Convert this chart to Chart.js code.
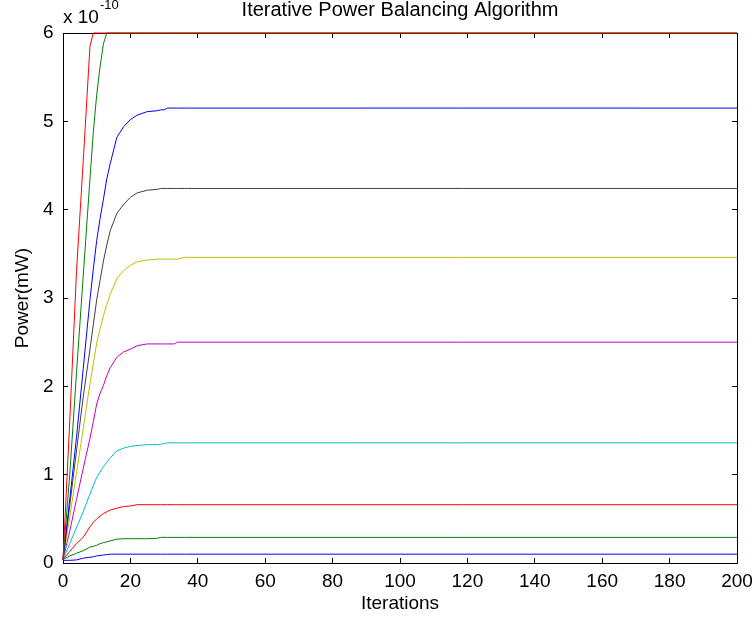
<!DOCTYPE html>
<html><head><meta charset="utf-8">
<script src="https://cdn.jsdelivr.net/npm/chart.js@4/dist/chart.umd.min.js"></script>
<style>html,body{margin:0;padding:0;background:#fff}canvas{display:block}</style>
</head><body>
<canvas id="c" width="755" height="625"></canvas>
<script>
// Iteration numbers (x) shared by every series
const iterations = [0,2,4,6,8,9,10,11,12,13,14,16,18,20,22,25,28,29,30,31,33,34,36,37,200];
// Power values in units of 1e-10 mW (MATLAB colour cycle order)
const powerBlueLow   = [0.03,0.03,0.035,0.055,0.065,0.07,0.08,0.085,0.09,0.095,0.1,0.1,0.1,0.1,0.1,0.1,0.1,0.1,0.1,0.1,0.1,0.1,0.1,0.1,0.1];
const powerGreenLow  = [0.04,0.08,0.11,0.14,0.18,0.19,0.2,0.22,0.23,0.24,0.25,0.27,0.275,0.275,0.275,0.275,0.28,0.29,0.29,0.29,0.29,0.29,0.29,0.29,0.29];
const powerRedLow    = [0.04,0.13,0.22,0.29,0.41,0.46,0.5,0.53,0.56,0.58,0.6,0.62,0.64,0.645,0.66,0.66,0.66,0.66,0.66,0.66,0.66,0.66,0.66,0.66,0.66];
const powerCyan      = [0.04,0.22,0.4,0.58,0.78,0.88,0.97,1.03,1.09,1.14,1.19,1.27,1.3,1.32,1.33,1.34,1.34,1.345,1.35,1.36,1.36,1.36,1.36,1.36,1.36];
const powerMagenta   = [0.04,0.36,0.72,1.07,1.41,1.6,1.8,1.92,2.01,2.12,2.21,2.33,2.39,2.42,2.46,2.48,2.48,2.48,2.48,2.48,2.48,2.5,2.5,2.5,2.5];
const powerYellow    = [0.04,0.52,1.02,1.52,2.03,2.26,2.49,2.65,2.8,2.93,3.04,3.22,3.31,3.37,3.41,3.43,3.44,3.44,3.44,3.44,3.44,3.44,3.46,3.46,3.46];
const powerBlack     = [0.04,0.65,1.27,1.88,2.42,2.7,2.98,3.2,3.42,3.6,3.76,3.96,4.06,4.14,4.19,4.22,4.23,4.24,4.24,4.24,4.24,4.24,4.24,4.24,4.24];
const powerBlueHigh  = [0.04,0.72,1.42,2.2,2.98,3.33,3.65,3.9,4.12,4.35,4.52,4.82,4.94,5.02,5.07,5.11,5.12,5.13,5.13,5.15,5.15,5.15,5.15,5.15,5.15];
const powerGreenHigh = [0.04,1.0,2.15,3.25,4.35,4.88,5.3,5.62,5.88,6,6,6,6,6,6,6,6,6,6,6,6,6,6,6,6];
const powerRedHigh   = [0.04,1.6,3.3,4.55,5.85,6,6,6,6,6,6,6,6,6,6,6,6,6,6,6,6,6,6,6,6];
const seriesList = [powerBlueLow,powerGreenLow,powerRedLow,powerCyan,powerMagenta,powerYellow,powerBlack,powerBlueHigh,powerGreenHigh,powerRedHigh];
const seriesColors = ['#0000ff','#008000','#ff0000','#00bfbf','#bf00bf','#bfbf00','#404040','#0000ff','#008000','#ff0000'];
const xTickStep = 20, yTickStep = 1;
const titleText = 'Iterative Power Balancing Algorithm';
const xTitle = 'Iterations', yTitle = 'Power(mW)';
const exponentBase = 'x 10', exponentPower = '-10';

const FONT = '"Liberation Sans", Arial, Helvetica, sans-serif';

const datasets = seriesList.map((vals, i) => ({
  data: iterations.map((it, k) => ({x: it, y: vals[k]})),
  borderColor: seriesColors[i],
  backgroundColor: seriesColors[i],
  borderWidth: 1,
  pointRadius: 0,
  tension: 0,
  fill: false,
  clip: 2,
  order: seriesList.length - i
}));

const exponentLabel = {
  id: 'exponentLabel',
  afterDraw(chart) {
    const {ctx, chartArea} = chart;
    ctx.save();
    ctx.fillStyle = '#000';
    ctx.textAlign = 'left';
    ctx.textBaseline = 'alphabetic';
    ctx.font = '19px ' + FONT;
    ctx.fillText(exponentBase, chartArea.left, chartArea.top - 10);
    const w = ctx.measureText(exponentBase).width;
    ctx.font = '13px ' + FONT;
    ctx.fillText(exponentPower, chartArea.left + w + 1, chartArea.top - 24);
    ctx.restore();
  }
};

const tickGrid = {drawOnChartArea: false, tickLength: -5, color: '#000', lineWidth: 1};
const axisBorder = {display: true, color: '#000', width: 1};

new Chart(document.getElementById('c'), {
  type: 'line',
  data: {datasets},
  plugins: [exponentLabel],
  options: {
    responsive: false,
    animation: false,
    devicePixelRatio: 1,
    layout: {padding: {left: 0, right: 18, top: 0, bottom: 0}},
    plugins: {
      legend: {display: false},
      tooltip: {enabled: false},
      title: {
        display: true, text: titleText, color: '#000', fullSize: false,
        font: {family: FONT, size: 20, weight: 'normal', lineHeight: 1},
        padding: {top: 0, bottom: 13}
      }
    },
    scales: {
      x: {
        type: 'linear', position: 'bottom', min: 0, max: 200,
        ticks: {stepSize: xTickStep, color: '#000', font: {family: FONT, size: 19}, padding: 12.5, maxRotation: 0},
        grid: tickGrid, border: axisBorder,
        title: {display: true, text: xTitle, color: '#000', font: {family: FONT, size: 19}, padding: {top: 0, bottom: 10}},
        afterFit(s) { s.height = 62; s.paddingLeft = 0; s.paddingRight = 0; }
      },
      x2: {
        type: 'linear', position: 'top', min: 0, max: 200,
        ticks: {display: false, stepSize: xTickStep},
        grid: tickGrid, border: axisBorder,
        afterFit(s) { s.height = 0; s.paddingLeft = 0; s.paddingRight = 0; }
      },
      y: {
        type: 'linear', position: 'left', min: 0, max: 6,
        ticks: {stepSize: yTickStep, color: '#000', font: {family: FONT, size: 19}, padding: 14.5},
        grid: tickGrid, border: axisBorder,
        title: {display: true, text: yTitle, color: '#000', font: {family: FONT, size: 19}, padding: {top: 11.5, bottom: 0}},
        afterFit(s) { s.width = 63; }
      },
      y2: {
        type: 'linear', position: 'right', min: 0, max: 6,
        ticks: {display: false, stepSize: yTickStep},
        grid: tickGrid, border: axisBorder,
        afterFit(s) { s.width = 0; s.paddingTop = 0; s.paddingBottom = 0; }
      }
    }
  }
});
</script>
</body></html>
